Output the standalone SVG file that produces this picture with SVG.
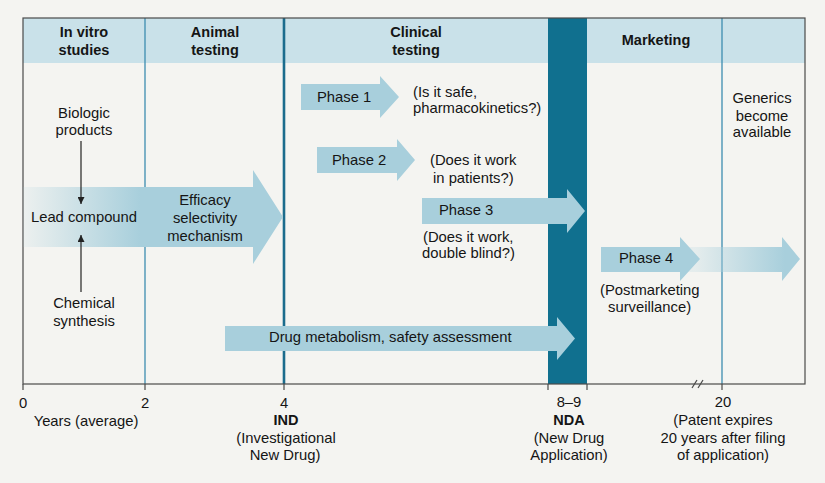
<svg xmlns="http://www.w3.org/2000/svg" width="825" height="483" viewBox="0 0 825 483">
<defs>
<style>
text{font-family:"Liberation Sans",Arial,sans-serif;font-size:14.8px;fill:#151515}
.h{font-weight:bold;font-size:14.5px}
.c{text-anchor:middle}
.blk{fill:#a8cfdc}
.frame{fill:none;stroke:#4a4a4a;stroke-width:1.2}
.thin{stroke:#3d8db0;stroke-width:1.3}
.tick{stroke:#4a4a4a;stroke-width:1.2}
.conn{stroke:#222;stroke-width:1.2;fill:none}
</style>
<linearGradient id="fadeL" x1="23" y1="0" x2="140" y2="0" gradientUnits="userSpaceOnUse">
<stop offset="0" stop-color="#a8cfdc" stop-opacity="0.1"/>
<stop offset="1" stop-color="#a8cfdc"/>
</linearGradient>
<linearGradient id="fadeP4" x1="695" y1="0" x2="785" y2="0" gradientUnits="userSpaceOnUse">
<stop offset="0" stop-color="#a8cfdc" stop-opacity="0.2"/>
<stop offset="1" stop-color="#a8cfdc"/>
</linearGradient>
<marker id="ah" viewBox="0 0 10 10" refX="10" refY="5" markerWidth="7" markerHeight="7" orient="auto" markerUnits="userSpaceOnUse">
<path d="M0,0 L10,5 L0,10 Z" fill="#222"/>
</marker>
</defs>
<rect width="825" height="483" fill="#f4f4f1"/>

<g id="background">
<rect x="23" y="18" width="782" height="45" fill="#c9e1e9"/>
<rect x="548" y="18" width="39" height="366" fill="#10708f"/>
<line class="thin" x1="145" y1="18" x2="145" y2="384"/>
<line x1="284" y1="18" x2="284" y2="384" stroke="#1b6c8d" stroke-width="2.6"/>
<line class="thin" x1="722" y1="18" x2="722" y2="384"/>
<rect class="frame" x="23" y="18" width="782" height="366"/>
</g>

<g id="headers">
<text class="h c" x="84" y="37">In vitro</text>
<text class="h c" x="84" y="55">studies</text>
<text class="h c" x="215" y="37">Animal</text>
<text class="h c" x="215" y="55">testing</text>
<text class="h c" x="416" y="37">Clinical</text>
<text class="h c" x="416" y="55">testing</text>
<text class="h c" x="656" y="45">Marketing</text>
</g>

<g id="lead-arrow">
<path d="M23,187 H253 V170 L283,217 L253,264 V247 H23 Z" fill="url(#fadeL)"/>
<text class="c" x="205" y="205">Efficacy</text>
<text class="c" x="205" y="223">selectivity</text>
<text class="c" x="205" y="241">mechanism</text>
</g>

<g id="biologic">
<text class="c" x="84" y="118">Biologic</text>
<text class="c" x="84" y="135">products</text>
</g>
<g id="lead">
<text class="c" x="84" y="222">Lead compound</text>
</g>
<g id="chemical">
<text class="c" x="84" y="308">Chemical</text>
<text class="c" x="84" y="326">synthesis</text>
</g>

<g id="phase1">
<path class="blk" d="M301,84 H380 V76 L399,97 L380,118 V110 H301 Z"/>
<text x="317" y="102">Phase 1</text>
<text x="413" y="97">(Is it safe,</text>
<text x="413" y="113">pharmacokinetics?)</text>
</g>

<g id="phase2">
<path class="blk" d="M317,147 H397 V139 L415,160 L397,181 V173 H317 Z"/>
<text x="332" y="165">Phase 2</text>
<text x="430" y="165">(Does it work</text>
<text x="433" y="183">in patients?)</text>
</g>

<g id="phase3">
<path class="blk" d="M422,198 H567 V189 L585,211 L567,233 V224 H422 Z"/>
<text x="439" y="215">Phase 3</text>
<text x="423" y="242">(Does it work,</text>
<text x="422" y="258">double blind?)</text>
</g>

<g id="drug-metabolism">
<path class="blk" d="M225,326 H557 V317 L575,338.5 L557,360 V351 H225 Z"/>
<text x="269" y="342">Drug metabolism, safety assessment</text>
</g>

<g id="phase4">
<path d="M680,247 H782 V237 L800,259 L782,281 V272 H680 Z" fill="url(#fadeP4)"/>
<path class="blk" d="M601,247 H680 V237 L700,259 L680,281 V272 H601 Z"/>
<text x="619" y="263">Phase 4</text>
<text x="600" y="295">(Postmarketing</text>
<text x="608" y="312">surveillance)</text>
</g>

<g id="generics">
<text class="c" x="762" y="103">Generics</text>
<text class="c" x="762" y="121">become</text>
<text class="c" x="762" y="137">available</text>
</g>

<g id="connectors">
<line class="conn" x1="81" y1="141" x2="81" y2="204" marker-end="url(#ah)"/>
<line class="conn" x1="81" y1="292" x2="81" y2="235" marker-end="url(#ah)"/>
</g>

<g id="axis">
<line class="tick" x1="23" y1="384" x2="23" y2="390"/>
<line class="tick" x1="145" y1="384" x2="145" y2="390"/>
<line class="tick" x1="284" y1="384" x2="284" y2="390"/>
<line class="tick" x1="548" y1="384" x2="548" y2="390"/>
<line class="tick" x1="587" y1="384" x2="587" y2="390"/>
<line class="tick" x1="722" y1="384" x2="722" y2="390"/>
<line class="tick" x1="692" y1="388" x2="697" y2="380"/>
<line class="tick" x1="698" y1="388" x2="703" y2="380"/>
<text class="c" x="23" y="408">0</text>
<text class="c" x="145" y="408">2</text>
<text class="c" x="284" y="408">4</text>
<text class="c" x="86" y="426">Years (average)</text>
<text class="h c" x="286" y="425">IND</text>
<text class="c" x="286" y="443">(Investigational</text>
<text class="c" x="285" y="460">New Drug)</text>
<text class="c" x="569" y="407">8–9</text>
<text class="h c" x="569" y="425">NDA</text>
<text class="c" x="569" y="443">(New Drug</text>
<text class="c" x="569" y="460">Application)</text>
<text class="c" x="723" y="407">20</text>
<text class="c" x="723" y="425">(Patent expires</text>
<text class="c" x="723" y="443">20 years after filing</text>
<text class="c" x="723" y="460">of application)</text>
</g>
</svg>
